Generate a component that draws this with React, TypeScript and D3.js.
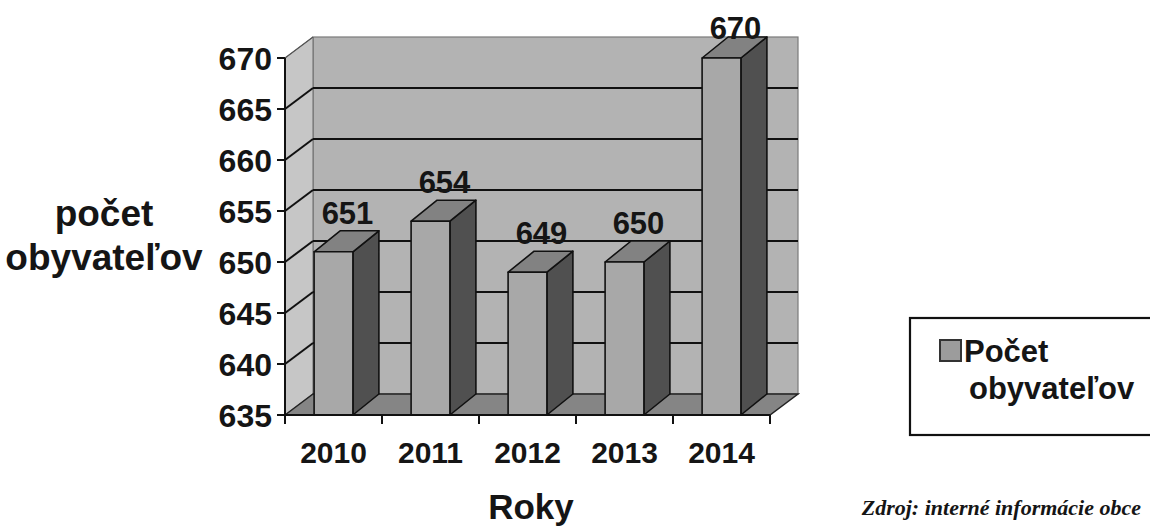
import React from "react";
import * as d3 from "d3";

const years = ["2010", "2011", "2012", "2013", "2014"];
const population = [651, 654, 649, 650, 670];
const yTicks = [635, 640, 645, 650, 655, 660, 665, 670];
const yTitle = ["počet", "obyvateľov"];
const xTitle = "Roky";
const legendLines = ["Počet", "obyvateľov"];
const source = "Zdroj: interné informácie obce";

const W = 1150;
const H = 527;
const X0 = 285;
const X1 = 770;
const Y0 = 415;
const Y1 = 58;
const DX = 28;
const DY = -21;
const BDX = 26;
const BDY = -21;

const sans = "'Liberation Sans', Arial, Helvetica, sans-serif";
const serif = "'Liberation Serif', 'Times New Roman', serif";
const ink = "#151515";

export default function App() {
  const x = d3.scaleBand<string>().domain(years).range([X0, X1]).paddingInner(0).paddingOuter(0);
  const y = d3.scaleLinear().domain([635, 670]).range([Y0, Y1]);
  const bw = x.bandwidth() * 0.4;

  const pts = (arr: [number, number][]) => arr.map((p) => p.join(",")).join(" ");

  return (
    <svg
      width={W}
      height={H}
      style={{ position: "absolute", left: 0, top: 0, background: "#fff" }}
    >
      <rect x={0} y={0} width={W} height={H} fill="#fff" />
      {/* back wall */}
      <rect
        x={X0 + DX}
        y={Y1 + DY}
        width={X1 - X0}
        height={Y0 - Y1}
        fill="#b3b3b3"
        stroke="#7a7a7a"
        strokeWidth={1.2}
      />
      {/* left wall */}
      <polygon
        points={pts([
          [X0, Y1],
          [X0 + DX, Y1 + DY],
          [X0 + DX, Y0 + DY],
          [X0, Y0],
        ])}
        fill="#c6c6c6"
        stroke="#6a6a6a"
        strokeWidth={1}
      />
      {/* floor */}
      <polygon
        points={pts([
          [X0, Y0],
          [X0 + DX, Y0 + DY],
          [X1 + DX, Y0 + DY],
          [X1, Y0],
        ])}
        fill="#858585"
        stroke="#222"
        strokeWidth={1.5}
      />
      {/* gridlines */}
      {yTicks
        .filter((t) => t !== 635)
        .map((t) => (
          <g key={"g" + t}>
            <line
              x1={X0}
              y1={y(t)}
              x2={X0 + DX}
              y2={y(t) + DY}
              stroke={t === 670 ? "#555" : "#111"}
              strokeWidth={t === 670 ? 1.2 : 2}
            />
            {t !== 670 && (
              <line
                x1={X0 + DX}
                y1={y(t) + DY}
                x2={X1 + DX}
                y2={y(t) + DY}
                stroke="#111"
                strokeWidth={2}
              />
            )}
          </g>
        ))}
      {/* bars */}
      {years.map((yr, i) => {
        const v = population[i];
        const bx = (x(yr) as number) + (x.bandwidth() - bw) / 2;
        const top = y(v);
        return (
          <g key={yr} stroke="#111" strokeWidth={1.6} strokeLinejoin="round">
            <polygon
              points={pts([
                [bx + bw, top],
                [bx + bw + BDX, top + BDY],
                [bx + bw + BDX, Y0 + BDY],
                [bx + bw, Y0],
              ])}
              fill="#505050"
            />
            <polygon
              points={pts([
                [bx, top],
                [bx + BDX, top + BDY],
                [bx + bw + BDX, top + BDY],
                [bx + bw, top],
              ])}
              fill="#828282"
            />
            <rect x={bx} y={top} width={bw} height={Y0 - top} fill="#a8a8a8" />
          </g>
        );
      })}
      {/* value labels */}
      {years.map((yr, i) => {
        const v = population[i];
        const cx = (x(yr) as number) + x.bandwidth() / 2 + 14;
        const by = Math.max(y(v) - 28, 39);
        return (
          <text
            key={"v" + yr}
            x={cx}
            y={by}
            textAnchor="middle"
            fontFamily={sans}
            fontWeight="bold"
            fontSize={31}
            fill={ink}
          >
            {v}
          </text>
        );
      })}
      {/* y axis */}
      <line x1={X0} y1={Y1} x2={X0} y2={Y0} stroke="#111" strokeWidth={2} />
      {yTicks.map((t) => (
        <g key={"yt" + t}>
          <line x1={X0 - 8} y1={y(t)} x2={X0} y2={y(t)} stroke="#111" strokeWidth={2} />
          <text
            x={X0 - 13}
            y={y(t)}
            dy="0.36em"
            textAnchor="end"
            fontFamily={sans}
            fontWeight="bold"
            fontSize={32}
            fill={ink}
          >
            {t}
          </text>
        </g>
      ))}
      {/* x axis */}
      <line x1={X0} y1={Y0} x2={X1} y2={Y0} stroke="#111" strokeWidth={2} />
      {[...years.map((yr) => x(yr) as number), X1].map((tx, i) => (
        <line key={"xt" + i} x1={tx} y1={Y0} x2={tx} y2={Y0 + 9} stroke="#111" strokeWidth={2} />
      ))}
      {years.map((yr) => (
        <text
          key={"xl" + yr}
          x={(x(yr) as number) + x.bandwidth() / 2}
          y={463}
          textAnchor="middle"
          fontFamily={sans}
          fontWeight="bold"
          fontSize={30}
          fill={ink}
        >
          {yr}
        </text>
      ))}
      {/* axis titles */}
      {yTitle.map((s, i) => (
        <text
          key={"yti" + i}
          x={104}
          y={226 + i * 44}
          textAnchor="middle"
          fontFamily={sans}
          fontWeight="bold"
          fontSize={37}
          fill={ink}
        >
          {s}
        </text>
      ))}
      <text
        x={531}
        y={519}
        textAnchor="middle"
        fontFamily={sans}
        fontWeight="bold"
        fontSize={35}
        fill={ink}
      >
        {xTitle}
      </text>
      {/* legend */}
      <rect x={910} y={318} width={260} height={117} fill="#fff" stroke="#111" strokeWidth={2.2} />
      <rect x={940} y={340} width={21} height={21} fill="#9c9c9c" stroke="#333" strokeWidth={2} />
      <text x={964} y={362} fontFamily={sans} fontWeight="bold" fontSize={31} fill={ink}>
        {legendLines[0]}
      </text>
      <text x={969} y={399} fontFamily={sans} fontWeight="bold" fontSize={31} fill={ink}>
        {legendLines[1]}
      </text>
      {/* source */}
      <text
        x={1141}
        y={515}
        textAnchor="end"
        fontFamily={serif}
        fontStyle="italic"
        fontWeight="bold"
        fontSize={22}
        fill={ink}
      >
        {source}
      </text>
    </svg>
  );
}
